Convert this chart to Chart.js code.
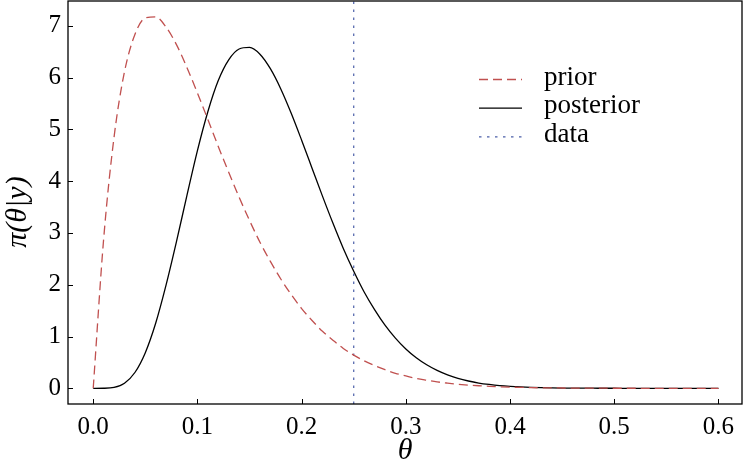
<!DOCTYPE html>
<html>
<head>
<meta charset="utf-8">
<script src="https://cdn.jsdelivr.net/npm/chart.js@4.4.1/dist/chart.umd.min.js"></script>
<style>
  html, body { margin: 0; padding: 0; background: #fff; }
  #wrap { width: 744px; height: 464px; }
</style>
</head>
<body>
<div id="wrap"><canvas id="myChart" width="744" height="464"></canvas></div>
<script>
// theta grid and densities
const thetas = [0.00, 0.01, 0.02, 0.03, 0.04, 0.05, 0.06, 0.07, 0.08, 0.09,
  0.10, 0.11, 0.12, 0.13, 0.14, 0.15, 0.16, 0.17, 0.18, 0.19,
  0.20, 0.21, 0.22, 0.23, 0.24, 0.25, 0.26, 0.27, 0.28, 0.29,
  0.30, 0.31, 0.32, 0.33, 0.34, 0.35, 0.36, 0.37, 0.38, 0.39,
  0.40, 0.41, 0.42, 0.43, 0.44, 0.45, 0.46, 0.47, 0.48, 0.49,
  0.50, 0.51, 0.52, 0.53, 0.54, 0.55, 0.56, 0.57, 0.58, 0.59, 0.60];

const prior = [0, 2.88, 4.85, 6.11, 6.83, 7.15, 7.17, 6.97, 6.63, 6.19,
  5.70, 5.19, 4.67, 4.17, 3.69, 3.24, 2.82, 2.45, 2.11, 1.81,
  1.54, 1.31, 1.10, 0.93, 0.77, 0.64, 0.53, 0.44, 0.36, 0.29,
  0.24, 0.19, 0.155, 0.124, 0.10, 0.079, 0.062, 0.049, 0.038, 0.030,
  0.023, 0.018, 0.013, 0.010, 0.008, 0.006, 0.004, 0.003, 0.002, 0.002,
  0.001, 0.001, 0.001, 0, 0, 0, 0, 0, 0, 0, 0];

const posterior = [0, 0.001, 0.017, 0.098, 0.305, 0.688, 1.26, 2.00, 2.84, 3.73,
  4.59, 5.34, 5.94, 6.34, 6.55, 6.58, 6.45, 6.17, 5.78, 5.31,
  4.79, 4.25, 3.71, 3.19, 2.70, 2.26, 1.86, 1.52, 1.22, 0.97,
  0.76, 0.59, 0.454, 0.345, 0.259, 0.192, 0.141, 0.102, 0.074, 0.052,
  0.037, 0.026, 0.018, 0.012, 0.008, 0.005, 0.004, 0.002, 0.002, 0.001,
  0.001, 0, 0, 0, 0, 0, 0, 0, 0, 0, 0];

const dataTheta = 0.25;

const xTicks = [0.0, 0.1, 0.2, 0.3, 0.4, 0.5, 0.6];
const yTicks = [0, 1, 2, 3, 4, 5, 6, 7];
const xRange = [-0.0242, 0.6226];
const yRange = [-0.303, 7.477];

const labels = ["prior", "posterior", "data"];

const RED = "#c0504f";
const BLUE = "#4a5ea8";
const FONT = "'Liberation Serif', 'Times New Roman', serif";

Chart.defaults.font.family = FONT;
Chart.defaults.color = "#000";

const pairs = (ys) => thetas.map((t, i) => ({ x: t, y: ys[i] }));

// frame, inward ticks, axis titles and legend
const framePlugin = {
  id: "frame",
  afterDraw(chart) {
    const { ctx, chartArea: a, scales } = chart;
    const x = scales.x, y = scales.y;
    ctx.save();
    ctx.strokeStyle = "#000";
    ctx.lineWidth = 1.3;
    ctx.setLineDash([]);
    ctx.strokeRect(a.left, a.top, a.right - a.left, a.bottom - a.top);

    ctx.lineWidth = 1;
    ctx.beginPath();
    xTicks.forEach((v) => {
      const px = Math.round(x.getPixelForValue(v)) + 0.5;
      ctx.moveTo(px, a.bottom);
      ctx.lineTo(px, a.bottom - 5);
    });
    yTicks.forEach((v) => {
      const py = Math.round(y.getPixelForValue(v)) + 0.5;
      ctx.moveTo(a.left, py);
      ctx.lineTo(a.left + 5, py);
    });
    ctx.stroke();

    // axis titles
    ctx.fillStyle = "#000";
    ctx.font = "italic 30px " + FONT;
    ctx.textAlign = "center";
    ctx.textBaseline = "alphabetic";
    ctx.fillText("\u03b8", (a.left + a.right) / 2, 459);

    ctx.save();
    ctx.translate(26, 212);
    ctx.rotate(-Math.PI / 2);
    ctx.fillText("\u03c0(\u03b8|y)", 0, 0);
    ctx.restore();

    // legend
    const rows = [
      { text: labels[0], color: RED, dash: [9, 5], width: 1.3 },
      { text: labels[1], color: "#000", dash: [], width: 1.3 },
      { text: labels[2], color: BLUE, dash: [2.5, 5.5], width: 1.2 },
    ];
    ctx.font = "27px " + FONT;
    ctx.textAlign = "left";
    ctx.textBaseline = "middle";
    rows.forEach((r, i) => {
      const cy = 79.5 + i * 28.7;
      ctx.strokeStyle = r.color;
      ctx.lineWidth = r.width;
      ctx.setLineDash(r.dash);
      ctx.beginPath();
      ctx.moveTo(479, cy);
      ctx.lineTo(522, cy);
      ctx.stroke();
      ctx.fillText(r.text, 544, cy - 2);
    });
    ctx.restore();
  },
};

new Chart("myChart", {
  type: "line",
  data: {
    datasets: [
      {
        label: labels[0],
        data: pairs(prior),
        borderColor: RED,
        borderWidth: 1.3,
        borderDash: [9, 5],
        pointRadius: 0,
        cubicInterpolationMode: "monotone",
      },
      {
        label: labels[1],
        data: pairs(posterior),
        borderColor: "#000",
        borderWidth: 1.3,
        pointRadius: 0,
        cubicInterpolationMode: "monotone",
      },
      {
        label: labels[2],
        data: [
          { x: dataTheta, y: yRange[0] },
          { x: dataTheta, y: yRange[1] },
        ],
        borderColor: BLUE,
        borderWidth: 1.2,
        borderDash: [2.5, 5.5],
        pointRadius: 0,
      },
    ],
  },
  options: {
    responsive: false,
    animation: false,
    layout: { padding: { top: 1, right: 2, left: 0, bottom: 0 } },
    plugins: { legend: { display: false }, tooltip: { enabled: false } },
    scales: {
      x: {
        type: "linear",
        min: xRange[0],
        max: xRange[1],
        grid: { display: false, drawTicks: false },
        border: { display: false },
        afterBuildTicks: (s) => { s.ticks = xTicks.map((v) => ({ value: v })); },
        afterFit: (s) => { s.height = 60; s.paddingLeft = 0; s.paddingRight = 0; },
        ticks: {
          font: { size: 25 },
          padding: 8,
          maxRotation: 0,
          callback: (v) => v.toFixed(1),
        },
      },
      y: {
        min: yRange[0],
        max: yRange[1],
        grid: { display: false, drawTicks: false },
        border: { display: false },
        afterBuildTicks: (s) => { s.ticks = yTicks.map((v) => ({ value: v })); },
        afterFit: (s) => { s.width = 68; s.paddingTop = 0; s.paddingBottom = 0; },
        ticks: {
          font: { size: 25 },
          padding: 7,
          callback: (v) => String(v),
        },
      },
    },
  },
  plugins: [framePlugin],
});
</script>
</body>
</html>
